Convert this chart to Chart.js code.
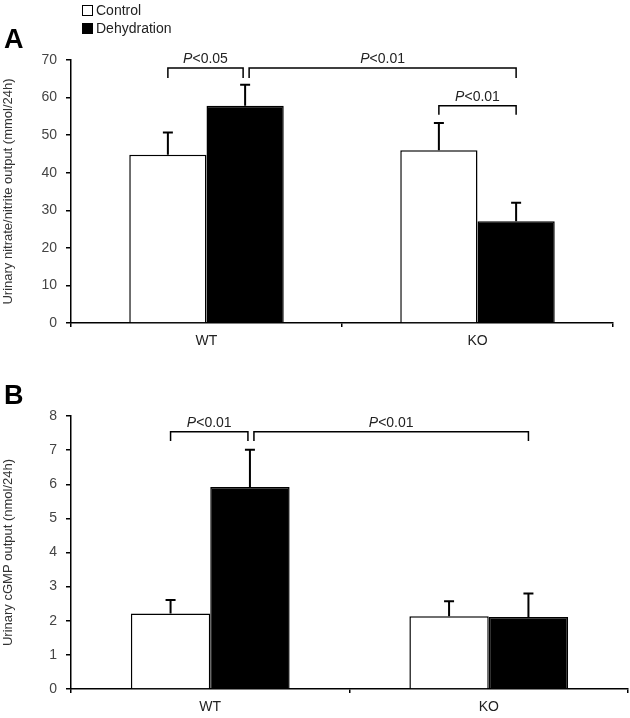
<!DOCTYPE html>
<html>
<head>
<meta charset="utf-8">
<script src="https://cdn.jsdelivr.net/npm/chart.js@4"></script>
<style>
  body { margin: 0; background: #fff; font-family: "Liberation Sans", Arial, sans-serif; }
  #wrap { position: relative; width: 630px; height: 718px; }
  .panel { position: absolute; left: 0; width: 630px; }
  .letter { position: absolute; left: 4px; font-weight: bold; font-size: 27px; color: #000; }
  .legend { position: absolute; left: 82px; top: 1px; font-size: 14px; color: #222; }
  .legend div { height: 18px; line-height: 18px; }
  .sw { display: inline-block; width: 9px; height: 9px; border: 1px solid #000; margin-right: 3px; vertical-align: -1px; }
</style>
</head>
<body>
<div id="wrap">
  <div class="panel" style="top:0;height:360px"><canvas id="chartA"></canvas></div>
  <div class="panel" style="top:360px;height:358px"><canvas id="chartB"></canvas></div>
  <div class="letter" style="top:24px">A</div>
  <div class="letter" style="top:380px">B</div>
  <div class="legend">
    <div><span class="sw" style="background:#fff"></span>Control</div>
    <div><span class="sw" style="background:#000"></span>Dehydration</div>
  </div>
</div>
<script>
// data
const groups = ['WT', 'KO'];

const nitrateControl = [44.8, 46.0];
const nitrateControlErr = [5.9, 7.2];
const nitrateDehyd = [57.8, 27.1];
const nitrateDehydErr = [5.6, 4.9];

const cgmpControl = [2.21, 2.13];
const cgmpControlErr = [0.40, 0.44];
const cgmpDehyd = [5.92, 2.11];
const cgmpDehydErr = [1.09, 0.69];

// brackets: [dataset, index] from -> to, height, drop, label
const bracketsA = [
    { from: [0, 0], to: [1, 0], y: 67.9, drop: 65.2, text: '<0.05', shrinkEnd: 2 },
    { from: [1, 0], to: [1, 1], y: 67.9, drop: 65.2, text: '<0.01', shrinkStart: 4 },
    { from: [0, 1], to: [1, 1], y: 57.8, drop: 55.4, text: '<0.01' }
];
const bracketsB = [
    { from: [0, 0], to: [1, 0], y: 7.54, drop: 7.27, text: '<0.01', shrinkEnd: 2 },
    { from: [1, 0], to: [1, 1], y: 7.54, drop: 7.27, text: '<0.01', shrinkStart: 4 }
];

const FONT = '"Liberation Sans", Arial, sans-serif';
Chart.defaults.font.family = FONT;
Chart.defaults.font.size = 14;
Chart.defaults.color = '#333';

const errorBars = {
    id: 'errorBars',
    afterDatasetsDraw(chart) {
        const ctx = chart.ctx;
        const y = chart.scales.y;
        ctx.save();
        ctx.strokeStyle = '#000';
        ctx.lineWidth = 2;
        chart.data.datasets.forEach((ds, i) => {
            chart.getDatasetMeta(i).data.forEach((bar, j) => {
                const top = y.getPixelForValue(ds.data[j] + ds.err[j]);
                ctx.beginPath();
                ctx.moveTo(bar.x, bar.y);
                ctx.lineTo(bar.x, top);
                ctx.moveTo(bar.x - 5, top);
                ctx.lineTo(bar.x + 5, top);
                ctx.stroke();
            });
        });
        ctx.restore();
    }
};

const brackets = {
    id: 'brackets',
    afterDraw(chart, args, opts) {
        const ctx = chart.ctx;
        const y = chart.scales.y;
        ctx.save();
        ctx.strokeStyle = '#000';
        ctx.lineWidth = 1.5;
        ctx.fillStyle = '#222';
        ctx.textBaseline = 'alphabetic';
        opts.items.forEach(b => {
            const x1 = chart.getDatasetMeta(b.from[0]).data[b.from[1]].x + (b.shrinkStart || 0);
            const x2 = chart.getDatasetMeta(b.to[0]).data[b.to[1]].x - (b.shrinkEnd || 0);
            const yt = y.getPixelForValue(b.y);
            const yd = y.getPixelForValue(b.drop);
            ctx.beginPath();
            ctx.moveTo(x1, yd);
            ctx.lineTo(x1, yt);
            ctx.lineTo(x2, yt);
            ctx.lineTo(x2, yd);
            ctx.stroke();
            ctx.font = 'italic 14px ' + FONT;
            const wP = ctx.measureText('P').width;
            ctx.font = '14px ' + FONT;
            const wT = ctx.measureText(b.text).width;
            const cx = (x1 + x2) / 2 - (wP + wT) / 2;
            ctx.font = 'italic 14px ' + FONT;
            ctx.fillText('P', cx, yt - 5);
            ctx.font = '14px ' + FONT;
            ctx.fillText(b.text, cx + wP, yt - 5);
        });
        ctx.restore();
    }
};

function makeChart(id, ctrl, ctrlErr, dehyd, dehydErr, max, step, title, pad, xh, items) {
    return new Chart(document.getElementById(id), {
        type: 'bar',
        data: {
            labels: groups,
            datasets: [{
                label: 'Control',
                data: ctrl,
                err: ctrlErr,
                backgroundColor: '#fff',
                borderColor: '#000',
                borderWidth: 1.5,
                borderSkipped: 'bottom'
            }, {
                label: 'Dehydration',
                data: dehyd,
                err: dehydErr,
                backgroundColor: '#000',
                borderColor: '#000',
                borderWidth: 1.5,
                borderSkipped: 'bottom'
            }]
        },
        options: {
            responsive: true,
            maintainAspectRatio: false,
            animation: false,
            layout: { padding: pad },
            datasets: { bar: { categoryPercentage: 0.57, barPercentage: 1.0 } },
            scales: {
                x: {
                    afterFit: s => { s.height = xh; },
                    grid: { display: true, drawOnChartArea: false, offset: true, tickLength: 4, color: '#000', lineWidth: 1.5 },
                    border: { display: true, color: '#000', width: 1.5 },
                    ticks: { color: '#222', padding: 6 }
                },
                y: {
                    min: 0,
                    max: max,
                    afterFit: s => { s.width = 71; },
                    ticks: { stepSize: step, color: '#444', padding: 9 },
                    grid: { display: true, drawOnChartArea: false, tickLength: 5, color: '#000', lineWidth: 1.5 },
                    border: { display: true, color: '#000', width: 1.5 },
                    title: { display: true, text: title, color: '#333', font: { size: 13 }, padding: { top: 1, bottom: 0 } }
                }
            },
            plugins: {
                legend: { display: false },
                tooltip: { enabled: false },
                brackets: { items: items }
            }
        },
        plugins: [errorBars, brackets]
    });
}

makeChart('chartA', nitrateControl, nitrateControlErr, nitrateDehyd, nitrateDehydErr,
    70, 10, 'Urinary nitrate/nitrite output (mmol/24h)',
    { left: 0, right: 17, top: 60, bottom: 0 }, 37, bracketsA);

makeChart('chartB', cgmpControl, cgmpControlErr, cgmpDehyd, cgmpDehydErr,
    8, 1, 'Urinary cGMP output (nmol/24h)',
    { left: 0, right: 2, top: 56, bottom: 0 }, 29, bracketsB);
</script>
</body>
</html>
